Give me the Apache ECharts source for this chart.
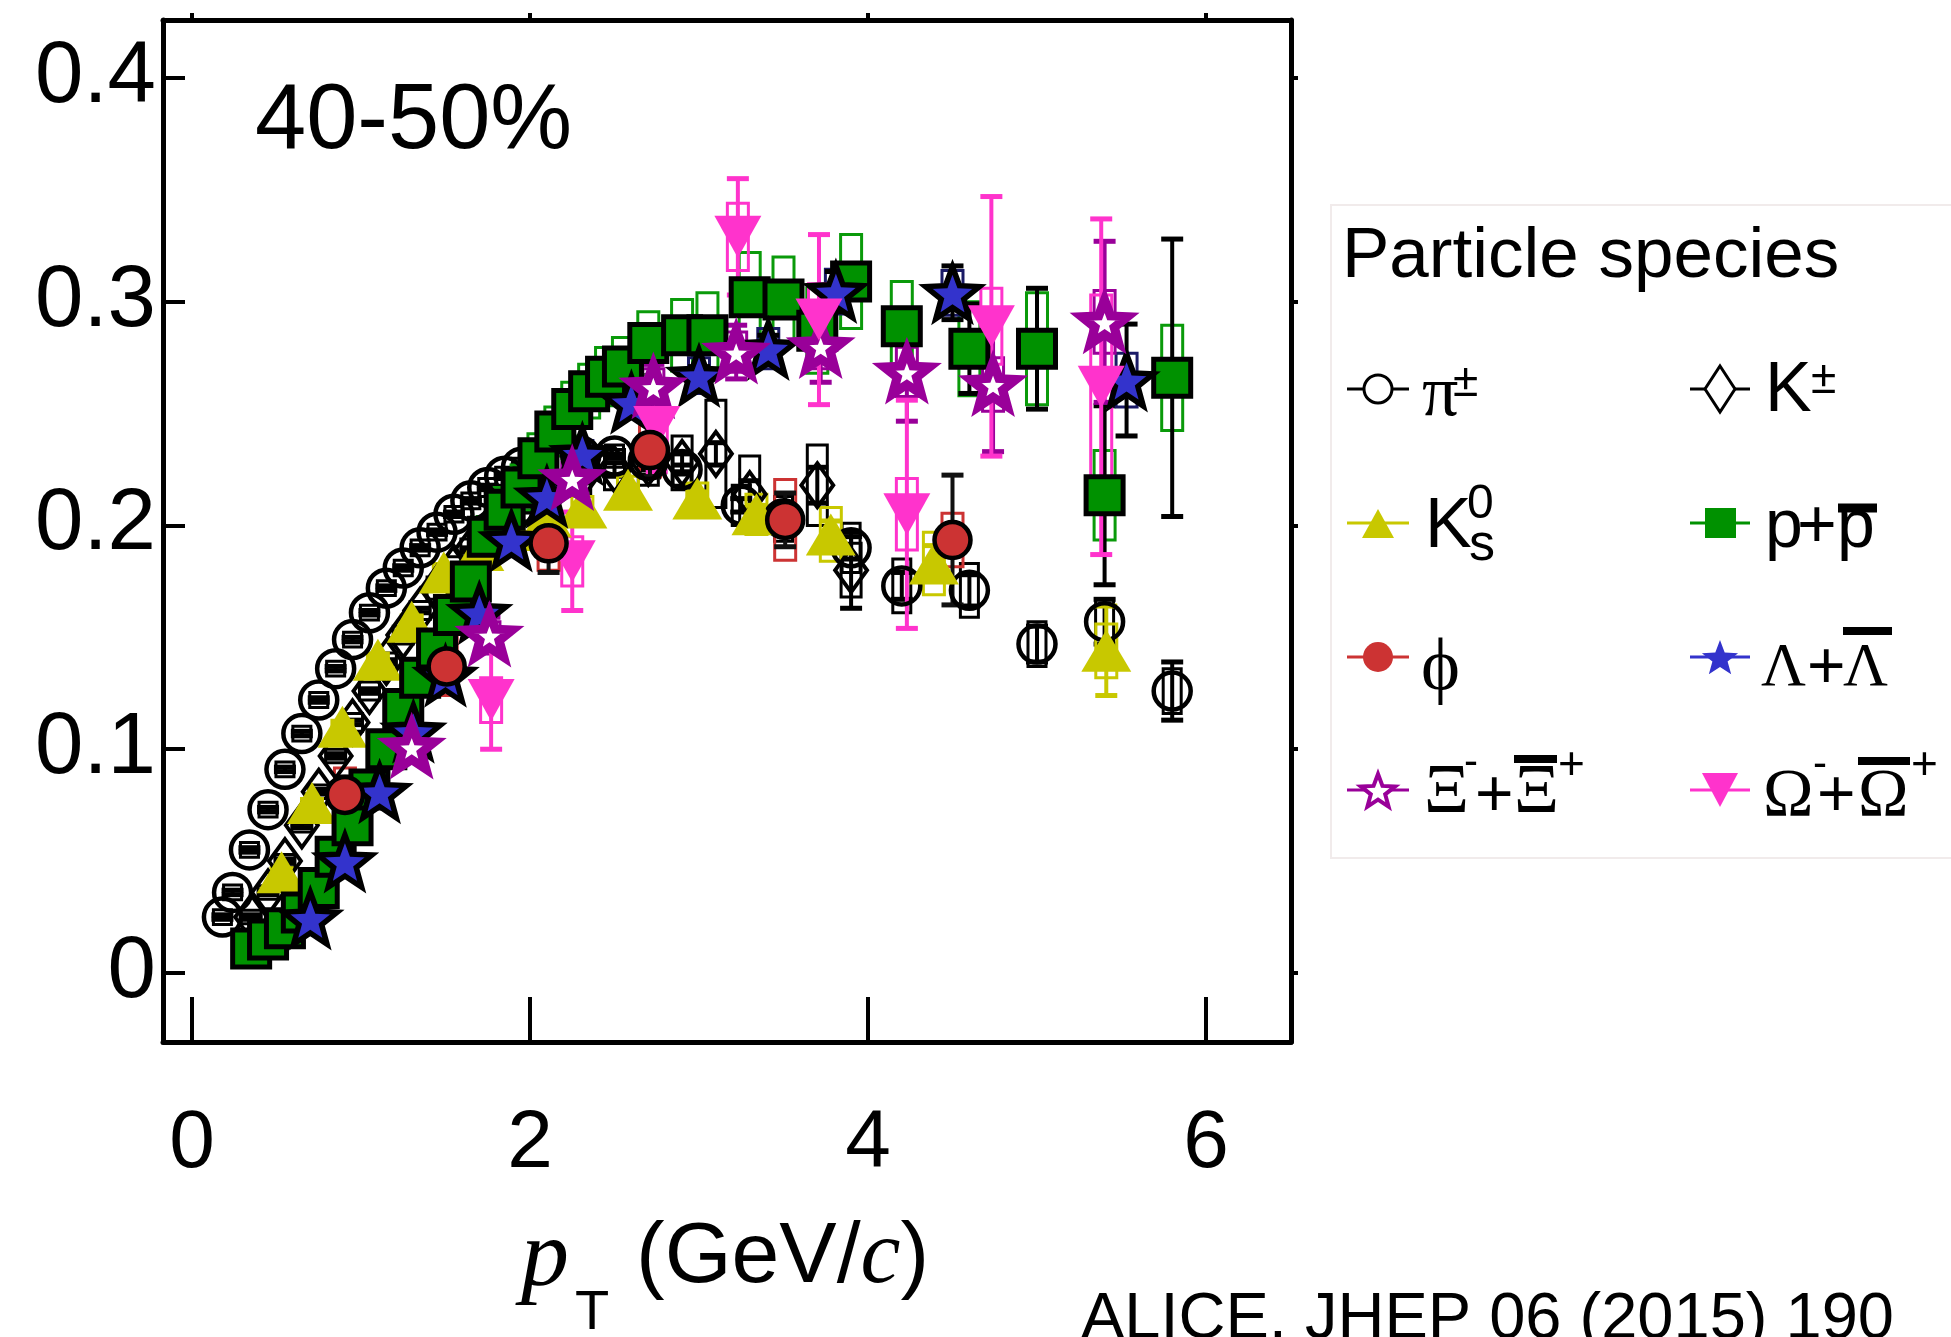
<!DOCTYPE html>
<html>
<head>
<meta charset="utf-8">
<script src="https://cdn.jsdelivr.net/npm/echarts@6/dist/echarts.min.js"></script>
<style>
  html, body { margin: 0; padding: 0; background: #ffffff; }
  #chart { width: 1951px; height: 1337px; }
</style>
</head>
<body>
<div id="chart"></div>
<script>
// Elliptic flow v2 versus pT for identified hadrons, 40-50% centrality.
// Each row: [pT (GeV/c), v2, statistical error, systematic error]

const pions = [
  [0.18, 0.025, 0.001, 0.0033], [0.24, 0.036, 0.001, 0.0033], [0.34, 0.055, 0.001, 0.0033],
  [0.45, 0.073, 0.001, 0.0033], [0.55, 0.091, 0.001, 0.0033], [0.65, 0.107, 0.001, 0.0033],
  [0.75, 0.122, 0.001, 0.0033], [0.85, 0.136, 0.001, 0.0033], [0.95, 0.149, 0.001, 0.0033],
  [1.05, 0.161, 0.001, 0.0033], [1.15, 0.172, 0.001, 0.0033], [1.25, 0.181, 0.001, 0.0035],
  [1.35, 0.190, 0.001, 0.0035], [1.45, 0.197, 0.001, 0.0035], [1.55, 0.205, 0.001, 0.0035],
  [1.65, 0.211, 0.001, 0.0035], [1.75, 0.217, 0.001, 0.004], [1.85, 0.222, 0.001, 0.004],
  [1.95, 0.226, 0.001, 0.004], [2.1, 0.229, 0.001, 0.004], [2.3, 0.231, 0.001, 0.005],
  [2.5, 0.231, 0.001, 0.005], [2.7, 0.229, 0.002, 0.006], [2.9, 0.225, 0.002, 0.007],
  [3.25, 0.209, 0.003, 0.009], [3.5, 0.203, 0.004, 0.010], [3.9, 0.190, 0.005, 0.011],
  [4.2, 0.173, 0.006, 0.012], [4.6, 0.171, 0.007, 0.012], [5.0, 0.147, 0.008, 0.010],
  [5.4, 0.157, 0.010, 0.010], [5.8, 0.126, 0.013, 0.010]
];

const chargedKaons = [
  [0.35, 0.025, 0.001, 0.003], [0.45, 0.036, 0.001, 0.003], [0.55, 0.050, 0.001, 0.003],
  [0.65, 0.066, 0.001, 0.003], [0.75, 0.081, 0.001, 0.003], [0.85, 0.097, 0.001, 0.003],
  [0.95, 0.112, 0.001, 0.004], [1.05, 0.126, 0.001, 0.004], [1.15, 0.139, 0.001, 0.004],
  [1.25, 0.151, 0.001, 0.004], [1.35, 0.162, 0.001, 0.004], [1.45, 0.172, 0.001, 0.005],
  [1.55, 0.181, 0.001, 0.005], [1.65, 0.189, 0.001, 0.005], [1.75, 0.196, 0.002, 0.005],
  [1.85, 0.203, 0.002, 0.006], [1.95, 0.208, 0.002, 0.006], [2.1, 0.215, 0.002, 0.007],
  [2.3, 0.221, 0.002, 0.008], [2.5, 0.225, 0.003, 0.009], [2.7, 0.228, 0.003, 0.010],
  [2.9, 0.228, 0.004, 0.012], [3.1, 0.232, 0.005, 0.024], [3.3, 0.214, 0.006, 0.017],
  [3.7, 0.218, 0.008, 0.018], [3.9, 0.180, 0.017, 0.012]
];

const neutralKaons = [
  [0.53, 0.045, 0.001, 0.002], [0.71, 0.076, 0.001, 0.002], [0.89, 0.110, 0.001, 0.003],
  [1.10, 0.140, 0.001, 0.003], [1.30, 0.157, 0.001, 0.003], [1.49, 0.179, 0.001, 0.004],
  [1.70, 0.189, 0.001, 0.004], [1.90, 0.198, 0.002, 0.004], [2.10, 0.204, 0.002, 0.005],
  [2.31, 0.208, 0.002, 0.005], [2.58, 0.216, 0.002, 0.006], [2.99, 0.212, 0.003, 0.007],
  [3.34, 0.205, 0.004, 0.009], [3.78, 0.196, 0.006, 0.012], [4.39, 0.183, 0.008, 0.014],
  [5.41, 0.144, 0.020, 0.012]
];

const protons = [
  [0.35, 0.011, 0.001, 0.003], [0.45, 0.015, 0.001, 0.003], [0.55, 0.020, 0.001, 0.004],
  [0.65, 0.027, 0.001, 0.004], [0.75, 0.038, 0.001, 0.004], [0.85, 0.052, 0.001, 0.005],
  [0.95, 0.066, 0.001, 0.005], [1.05, 0.082, 0.001, 0.006], [1.15, 0.100, 0.001, 0.006],
  [1.25, 0.118, 0.001, 0.007], [1.35, 0.132, 0.001, 0.007], [1.45, 0.145, 0.001, 0.008],
  [1.55, 0.160, 0.001, 0.008], [1.65, 0.175, 0.001, 0.009], [1.75, 0.195, 0.001, 0.009],
  [1.85, 0.207, 0.001, 0.010], [1.95, 0.217, 0.001, 0.010], [2.05, 0.230, 0.001, 0.011],
  [2.15, 0.242, 0.001, 0.011], [2.25, 0.252, 0.002, 0.012], [2.35, 0.260, 0.002, 0.012],
  [2.45, 0.2665, 0.002, 0.013], [2.55, 0.271, 0.002, 0.013], [2.7, 0.2815, 0.002, 0.014],
  [2.9, 0.285, 0.003, 0.016], [3.05, 0.285, 0.003, 0.019], [3.3, 0.302, 0.004, 0.020],
  [3.5, 0.301, 0.005, 0.019], [3.7, 0.287, 0.006, 0.019], [3.9, 0.309, 0.008, 0.021],
  [4.2, 0.289, 0.008, 0.020], [4.6, 0.279, 0.020, 0.021], [5.0, 0.279, 0.027, 0.025],
  [5.4, 0.2135, 0.040, 0.020], [5.8, 0.266, 0.062, 0.0235]
];

const lambdas = [
  [0.70, 0.0245, 0.003, 0.002], [0.905, 0.050, 0.002, 0.002], [1.11, 0.081, 0.002, 0.003],
  [1.31, 0.108, 0.002, 0.003], [1.50, 0.133, 0.002, 0.004], [1.70, 0.161, 0.002, 0.004],
  [1.89, 0.1935, 0.002, 0.005], [2.10, 0.213, 0.003, 0.005], [2.31, 0.232, 0.003, 0.006],
  [2.60, 0.255, 0.003, 0.007], [3.00, 0.267, 0.004, 0.008], [3.41, 0.279, 0.006, 0.009],
  [3.81, 0.3045, 0.009, 0.010], [4.50, 0.304, 0.012, 0.010], [5.53, 0.265, 0.025, 0.012]
];

const xis = [
  [1.30, 0.101, 0.006, 0.005], [1.76, 0.151, 0.008, 0.006], [2.25, 0.221, 0.007, 0.007],
  [2.73, 0.262, 0.010, 0.008], [3.22, 0.2775, 0.012, 0.009], [3.72, 0.280, 0.016, 0.010],
  [4.23, 0.2686, 0.022, 0.011], [4.74, 0.263, 0.030, 0.012], [5.40, 0.291, 0.036, 0.014]
];

const omegas = [
  [1.77, 0.122, 0.022, 0.010], [2.25, 0.184, 0.022, 0.011], [2.75, 0.244, 0.020, 0.012],
  [3.23, 0.329, 0.026, 0.015], [3.71, 0.292, 0.038, 0.016], [4.23, 0.205, 0.051, 0.016],
  [4.73, 0.289, 0.058, 0.017], [5.38, 0.262, 0.075, 0.041]
];

const phis = [
  [0.905, 0.0796, 0.008, 0.012], [1.507, 0.137, 0.010, 0.013], [2.11, 0.192, 0.013, 0.012],
  [2.71, 0.2337, 0.012, 0.012], [3.51, 0.2025, 0.012, 0.018], [4.50, 0.1935, 0.029, 0.012]
];

const xTicks = [0, 2, 4, 6];
const yTicks = [0, 0.1, 0.2, 0.3, 0.4];

// ---------------------------------------------------------------------------

const X_MIN = -0.1716, X_MAX = 6.503;
const Y_MIN = -0.03084, Y_MAX = 0.4259;

const SANS = '"Liberation Sans", Arial, Helvetica, sans-serif';
const SERIF = '"Liberation Serif", "DejaVu Serif", "Times New Roman", serif';

const C_YELLOW = '#c8c800';
const C_GREEN = '#009100';
const C_GREEN_BOX = '#0a9a0a';
const C_RED = '#cc3333';
const C_BLUE = '#3333cc';
const C_PURPLE = '#990099';
const C_PINK = '#ff33cc';

function starPath(inner) {
  let d = '';
  for (let i = 0; i < 10; i++) {
    const a = -Math.PI / 2 + i * Math.PI / 5;
    const r = i % 2 === 0 ? 1 : inner;
    d += (i === 0 ? 'M' : 'L') + (r * Math.cos(a)).toFixed(4) + ' ' + (r * Math.sin(a)).toFixed(4) + ' ';
  }
  return 'path://' + d + 'Z';
}
const STAR = starPath(0.42);

function starPoints(cx, cy, R, inner) {
  const pts = [];
  for (let i = 0; i < 10; i++) {
    const a = -Math.PI / 2 + i * Math.PI / 5;
    const r = i % 2 === 0 ? R : R * inner;
    pts.push([cx + r * Math.cos(a), cy + r * Math.sin(a)]);
  }
  return pts;
}

// statistical bars (with caps) and systematic boxes
function uncertaintySeries(name, rows, barColor, boxColor, opts) {
  const o = Object.assign({ boxW: 21, capW: 22, barW: 4, boxLW: 3 }, opts || {});
  return {
    type: 'custom',
    name: name + ' uncertainties',
    data: rows,
    silent: true,
    animation: false,
    encode: { x: 0, y: 1 },
    renderItem: function (params, api) {
      const x = api.value(0), y = api.value(1), st = api.value(2), sy = api.value(3);
      const c = api.coord([x, y]);
      const children = [];
      if (sy > 0) {
        const t = api.coord([x, y + sy])[1], b = api.coord([x, y - sy])[1];
        children.push({
          type: 'rect',
          shape: { x: c[0] - o.boxW / 2, y: t, width: o.boxW, height: b - t },
          style: { fill: 'none', stroke: boxColor, lineWidth: o.boxLW }
        });
      }
      if (st > 0) {
        const t = api.coord([x, y + st])[1], b = api.coord([x, y - st])[1];
        children.push({ type: 'line', shape: { x1: c[0], y1: t, x2: c[0], y2: b },
          style: { stroke: barColor, lineWidth: o.barW } });
        children.push({ type: 'line', shape: { x1: c[0] - o.capW / 2, y1: t, x2: c[0] + o.capW / 2, y2: t },
          style: { stroke: barColor, lineWidth: o.barW + 1 } });
        children.push({ type: 'line', shape: { x1: c[0] - o.capW / 2, y1: b, x2: c[0] + o.capW / 2, y2: b },
          style: { stroke: barColor, lineWidth: o.barW + 1 } });
      }
      return { type: 'group', children: children };
    }
  };
}

function markerSeries(name, rows, symbol, size, itemStyle, extra) {
  return Object.assign({
    type: 'scatter',
    name: name,
    data: rows.map(r => [r[0], r[1]]),
    symbol: symbol,
    symbolSize: size,
    itemStyle: Object.assign({ opacity: 1 }, itemStyle),
    silent: true,
    animation: false
  }, extra || {});
}

const series = [
  uncertaintySeries('pi', pions, '#000', '#000', { boxW: 18 }),
  markerSeries('pi', pions, 'circle', 37, { color: 'rgba(0,0,0,0)', borderColor: '#000', borderWidth: 4.5 }),

  uncertaintySeries('K', chargedKaons, '#000', '#000', { boxW: 20 }),
  markerSeries('K', chargedKaons, 'diamond', [32, 44], { color: 'rgba(0,0,0,0)', borderColor: '#000', borderWidth: 4 }),

  uncertaintySeries('K0s', neutralKaons, C_YELLOW, C_YELLOW),
  markerSeries('K0s', neutralKaons, 'triangle', [50, 42], { color: C_YELLOW }),

  uncertaintySeries('p', protons, '#000', C_GREEN_BOX),
  markerSeries('p', protons, 'rect', 37, { color: C_GREEN, borderColor: '#000', borderWidth: 5 }),

  uncertaintySeries('Lambda', lambdas, '#000', '#1a1a66'),
  markerSeries('Lambda', lambdas, STAR, [54, 52], { color: C_BLUE, borderColor: '#000', borderWidth: 5.5 }),

  uncertaintySeries('Xi', xis, C_PURPLE, C_PURPLE),
  markerSeries('Xi', xis, STAR, [46, 44], { color: '#ffffff', borderColor: C_PURPLE, borderWidth: 9 }),

  uncertaintySeries('Omega', omegas, C_PINK, C_PINK),
  markerSeries('Omega', omegas, 'triangle', [47, 42], { color: C_PINK }, { symbolRotate: 180 }),

  uncertaintySeries('phi', phis, '#111', C_RED),
  markerSeries('phi', phis, 'circle', 36, { color: C_RED, borderColor: '#000', borderWidth: 4.5 })
];

// --- annotation and legend drawn as graphic elements ----------------------

function text(x, y, str, size, o) {
  o = o || {};
  return {
    type: 'text', x: x, y: y, silent: true, z: 100,
    style: {
      text: str, fill: '#000',
      fontSize: size,
      fontFamily: o.serif ? SERIF : SANS,
      fontStyle: o.italic ? 'italic' : 'normal',
      align: o.align || 'left', verticalAlign: 'middle',
      textAlign: o.align || 'left', textVerticalAlign: 'middle'
    }
  };
}
function hline(x1, x2, y, color, w) {
  return { type: 'line', silent: true, z: 100, shape: { x1: x1, y1: y, x2: x2, y2: y }, style: { stroke: color, lineWidth: w } };
}

const legendCols = [1378, 1720];
const legendRows = [389, 523, 657, 790];

const graphics = [
  // centrality tag
  text(255, 123, '40-50%', 92),

  // axis title
  text(521, 1260, 'p', 96, { serif: true, italic: true }),
  text(575, 1314, 'T', 56),
  {
    type: 'text', x: 636, y: 1258, silent: true, z: 100,
    style: {
      text: '{a|(GeV/}{c|c}{a|)}', fill: '#000',
      verticalAlign: 'middle', textVerticalAlign: 'middle',
      rich: {
        a: { fontSize: 86, fontFamily: SANS, fill: '#000' },
        c: { fontSize: 90, fontFamily: SERIF, fontStyle: 'italic', fill: '#000' }
      }
    }
  },

  // reference
  text(1081, 1320, 'ALICE, JHEP 06 (2015) 190', 65),

  // legend frame
  { type: 'rect', silent: true, z: 90, shape: { x: 1331, y: 205, width: 700, height: 653 },
    style: { fill: '#ffffff', stroke: '#f1ebeb', lineWidth: 2 } },
  text(1342, 257, 'Particle species', 71),

  // row 1: pi, K
  hline(1347, 1409, legendRows[0], '#000', 3),
  { type: 'circle', silent: true, z: 100, shape: { cx: legendCols[0], cy: legendRows[0], r: 14 },
    style: { fill: '#fff', stroke: '#000', lineWidth: 3 } },
  text(1422, 396, 'π', 72, { serif: true }),
  text(1453, 383, '±', 46),
  hline(1690, 1750, legendRows[0], '#000', 3),
  { type: 'polygon', silent: true, z: 100,
    shape: { points: [[1720, 366], [1735, 389], [1720, 412], [1705, 389]] },
    style: { fill: '#fff', stroke: '#000', lineWidth: 3 } },
  text(1765, 392, 'K', 70),
  text(1811, 380, '±', 46),

  // row 2: K0s, p
  hline(1347, 1409, legendRows[1], C_YELLOW, 3),
  { type: 'polygon', silent: true, z: 100,
    shape: { points: [[1378, 509], [1394, 538], [1362, 538]] }, style: { fill: C_YELLOW } },
  text(1425, 528, 'K', 70),
  text(1467, 505, '0', 48),
  text(1469, 546, 's', 52),
  hline(1690, 1750, legendRows[1], C_GREEN, 3),
  { type: 'rect', silent: true, z: 100, shape: { x: 1705, y: 508, width: 31, height: 30 }, style: { fill: C_GREEN } },
  text(1765, 528, 'p', 68),
  text(1797, 528, '+', 68),
  text(1837, 528, 'p', 68),
  hline(1838, 1877, 508, '#000', 9),

  // row 3: phi, Lambda
  hline(1347, 1409, legendRows[2], C_RED, 3),
  { type: 'circle', silent: true, z: 100, shape: { cx: legendCols[0], cy: legendRows[2], r: 15 }, style: { fill: C_RED } },
  text(1421, 670, 'ϕ', 74, { serif: true }),
  hline(1690, 1750, legendRows[2], C_BLUE, 3),
  { type: 'polygon', silent: true, z: 100, shape: { points: starPoints(1720, 659, 19, 0.42) }, style: { fill: C_BLUE } },
  text(1761, 669, 'Λ', 62, { serif: true }),
  text(1807, 670, '+', 66),
  text(1843, 669, 'Λ', 62, { serif: true }),
  hline(1843, 1892, 631, '#000', 8),

  // row 4: Xi, Omega
  hline(1347, 1409, legendRows[3], C_PURPLE, 3),
  { type: 'polygon', silent: true, z: 100, shape: { points: starPoints(1378, 792, 18, 0.42) },
    style: { fill: '#fff', stroke: C_PURPLE, lineWidth: 4 } },
  text(1424, 794, 'Ξ', 70, { serif: true }),
  text(1464, 763, '-', 42),
  text(1475, 798, '+', 66),
  text(1514, 794, 'Ξ', 70, { serif: true }),
  hline(1514, 1557, 759, '#000', 8),
  text(1558, 766, '+', 46),
  hline(1690, 1750, legendRows[3], C_PINK, 3),
  { type: 'polygon', silent: true, z: 100,
    shape: { points: [[1702, 773], [1738, 773], [1720, 807]] }, style: { fill: C_PINK } },
  text(1763, 797, 'Ω', 68, { serif: true }),
  text(1813, 765, '-', 42),
  text(1817, 798, '+', 66),
  text(1858, 797, 'Ω', 68, { serif: true }),
  hline(1858, 1910, 761, '#000', 8),
  text(1911, 766, '+', 46)
];

const axisLine = { show: true, onZero: false, lineStyle: { color: '#000', width: 5 } };

const option = {
  backgroundColor: '#ffffff',
  animation: false,
  grid: { left: 163, right: 660, top: 20, bottom: 295, show: false, outerBoundsMode: 'none' },
  xAxis: [
    {
      type: 'value', min: X_MIN, max: X_MAX, position: 'bottom',
      axisLine: axisLine,
      axisTick: { show: true, inside: true, length: 45, customValues: xTicks, lineStyle: { color: '#000', width: 4 } },
      axisLabel: { show: true, customValues: xTicks, margin: 61, fontSize: 82, color: '#000', fontFamily: SANS,
        formatter: v => String(Math.round(v)) },
      splitLine: { show: false }, minorTick: { show: false }
    },
    {
      type: 'value', min: X_MIN, max: X_MAX, position: 'top',
      axisLine: axisLine,
      axisTick: { show: true, inside: false, length: 7, customValues: xTicks, lineStyle: { color: '#000', width: 4 } },
      axisLabel: { show: false }, splitLine: { show: false }
    }
  ],
  yAxis: [
    {
      type: 'value', min: Y_MIN, max: Y_MAX, position: 'left',
      axisLine: axisLine,
      axisTick: { show: true, inside: true, length: 22, customValues: yTicks, lineStyle: { color: '#000', width: 4 } },
      axisLabel: { show: true, customValues: yTicks, margin: 7, fontSize: 87, color: '#000', fontFamily: SANS,
        formatter: v => String(Math.round(v * 10) / 10) },
      splitLine: { show: false }
    },
    {
      type: 'value', min: Y_MIN, max: Y_MAX, position: 'right',
      axisLine: axisLine,
      axisTick: { show: true, inside: false, length: 7, customValues: yTicks, lineStyle: { color: '#000', width: 4 } },
      axisLabel: { show: false }, splitLine: { show: false }
    }
  ],
  series: series,
  graphic: { elements: graphics }
};

const chart = echarts.init(document.getElementById('chart'), null, { renderer: 'canvas' });
chart.setOption(option);
</script>
</body>
</html>
